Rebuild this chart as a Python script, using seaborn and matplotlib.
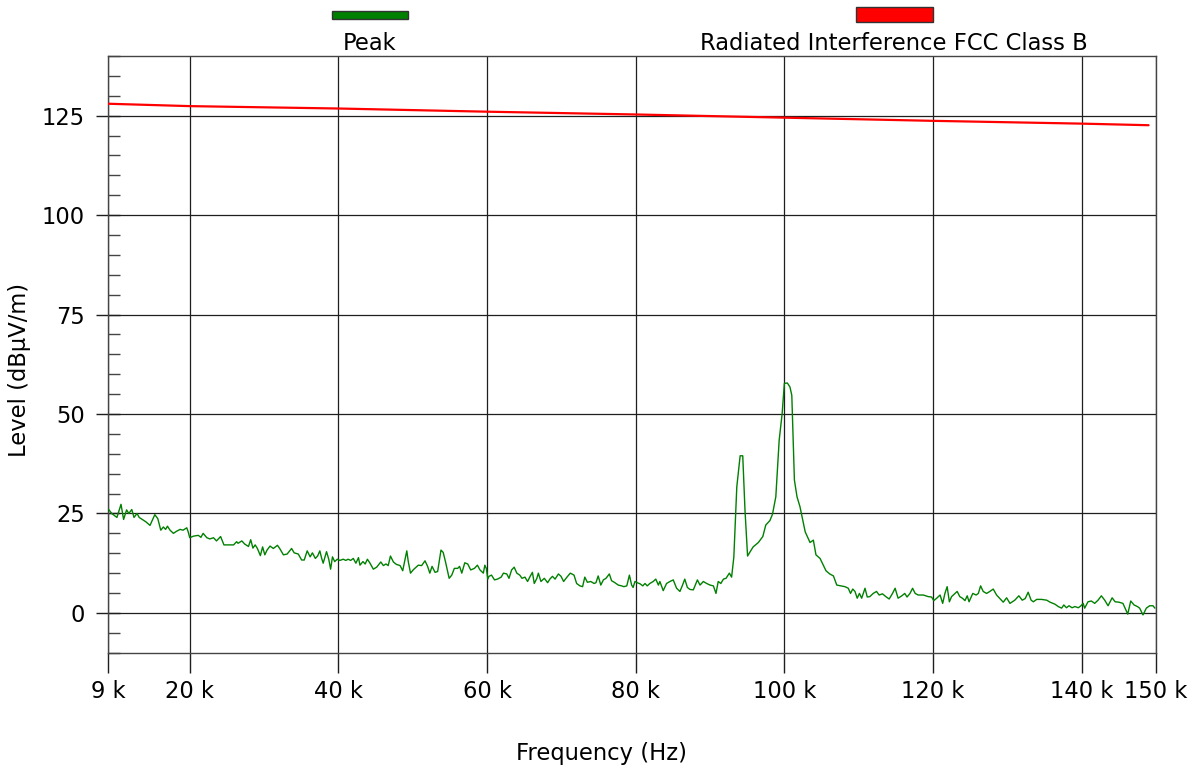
import numpy as np
import pandas as pd
import matplotlib
matplotlib.use("Agg")
import matplotlib.pyplot as plt
from matplotlib.patches import Rectangle
from matplotlib.ticker import MultipleLocator
import seaborn as sns

# ---------------- data ----------------
peak_freq_khz = [
    9.05, 9.5, 10.2, 10.75, 11.1, 11.5, 11.8, 12.2, 12.5, 12.9, 13.2, 13.6, 14.1, 14.65,
    15.3, 15.7, 16.1, 16.45, 16.75, 17.0, 17.35, 17.8, 18.2, 18.7, 19.1, 19.6, 19.8,
    20.0, 20.5, 21.15, 21.5, 21.8, 22.3, 22.7, 23.2, 23.6, 24.15, 24.6, 25.2, 25.9,
    26.3, 26.5, 27.0, 27.4, 27.9, 28.2, 28.5, 28.8, 29.1, 29.5,
    29.8, 30.1, 30.4, 30.8, 31.25, 31.8, 32.1, 32.6, 33.1, 33.7, 34.05, 34.6, 35.05,
    35.4, 35.8, 36.2, 36.5, 36.9, 37.2, 37.5, 37.75, 37.95, 38.4, 38.7, 38.95, 39.2,
    39.5, 39.85, 40.2, 40.65, 41.0, 41.3, 41.65, 42.0, 42.35, 42.7, 42.9, 43.3, 43.6,
    43.9, 44.25, 44.7, 45.15, 45.7, 46.05, 46.4, 46.7, 47.0, 47.4, 47.8, 48.3, 48.65,
    48.95, 49.2, 49.4, 49.7, 50.1,
    50.75, 51.2, 51.65, 52.0, 52.3, 52.6, 53.0, 53.35, 53.8, 54.1, 54.4, 54.9, 55.25,
    55.6, 56.05, 56.3, 56.6, 57.0, 57.4, 57.8, 58.3, 58.7, 59.05, 59.5, 59.7, 59.9,
    60.1, 60.25, 60.6, 61.0, 61.4, 61.9, 62.2, 62.65, 62.95, 63.3, 63.65, 64.0, 64.4,
    64.7, 65.1, 65.45, 65.8, 66.1, 66.35, 66.7, 66.9, 67.25, 67.7, 68.15, 68.45, 68.8,
    69.15, 69.6, 69.95, 70.3, 70.75, 71.2,
    71.7, 72.05, 72.5, 72.85, 73.15, 73.5, 73.95, 74.4, 74.65, 74.95, 75.3, 75.65, 76.0,
    76.45, 76.75, 77.2, 77.65, 78.1, 78.4, 78.8, 79.15, 79.45, 79.65, 79.9, 80.2, 80.6,
    80.95, 81.25, 81.55, 81.9, 82.35, 82.7, 83.05, 83.25, 83.7, 84.15, 84.6, 85.05,
    85.5, 85.95, 86.3, 86.6, 86.95, 87.3, 87.75, 88.3, 88.65, 89.1, 89.55, 90.0, 90.45,
    90.8, 91.1, 91.45, 91.8, 92.15, 92.6, 92.9,
    93.2, 93.6, 94.05, 94.4, 94.7, 95.05, 95.4, 95.8, 96.5, 97.1, 97.5, 98.05, 98.4,
    98.85, 99.3, 99.7, 100.0, 100.4, 100.75, 101.0, 101.35, 101.7, 102.1, 102.8, 103.45,
    103.9, 104.25, 104.8, 105.6, 106.1, 106.6, 107.05, 107.6, 108.15, 108.6, 108.9,
    109.2, 109.5, 109.8, 110.1, 110.4, 110.85, 111.15, 111.5, 111.95, 112.4, 112.75,
    113.2, 113.65, 114.1, 114.55, 114.9, 115.3, 115.8, 116.2, 116.5, 116.9, 117.25,
    117.6, 118.0, 118.7, 119.35, 119.8, 120.1, 120.5, 120.95, 121.3, 121.6, 121.9,
    122.2, 122.5, 122.95, 123.25, 123.6, 123.95, 124.3, 124.6, 124.85, 125.35, 125.8,
    126.1, 126.4, 126.75, 127.2, 127.65, 128.1, 128.55,
    129.45, 129.9, 130.35, 131.0, 131.55, 132.0, 132.4, 132.8, 133.2, 133.5, 133.95,
    134.6, 135.3, 135.75, 136.4, 136.85, 137.3, 137.6, 137.95, 138.3, 138.7, 139.1,
    139.55, 139.9, 140.2, 140.4, 140.85, 141.3, 141.75, 142.2, 142.65, 143.1, 143.55,
    144.1, 144.5, 145.0, 145.55, 146.2, 146.6, 147.05, 147.5, 147.8, 148.25, 148.7,
    149.15, 149.6, 149.85,
]
peak_level = [
    26.1, 25.0, 24.0, 27.3, 23.5, 25.9, 25.0, 26.0, 24.0, 25.0, 24.0, 23.5, 22.9, 22.0,
    24.7, 23.7, 20.8, 21.6, 21.0, 21.8, 20.8, 20.0, 20.5, 21.0, 20.8, 21.4, 20.3,
    18.9, 19.3, 19.5, 19.0, 20.0, 18.9, 18.6, 18.9, 18.1, 19.2, 17.1, 17.1, 17.1,
    17.9, 17.5, 18.1, 17.3, 16.7, 18.4, 16.3, 17.1, 16.2, 14.4,
    16.6, 14.6, 15.8, 16.8, 16.2, 17.0, 16.2, 14.6, 14.8, 16.2, 15.1, 14.8, 13.3,
    13.3, 15.6, 14.1, 15.1, 13.7, 14.3, 15.6, 13.7, 12.5, 15.4, 13.5, 11.0, 14.1,
    12.9, 13.5, 13.2, 13.5, 13.2, 13.5, 13.2, 13.7, 12.5, 13.9, 12.0, 12.9, 12.3,
    13.5, 12.5, 11.0, 11.5, 12.8, 11.9, 12.3, 11.9, 14.3, 12.8, 12.2, 11.9, 10.6,
    13.3, 15.6, 12.9, 10.0, 10.9,
    12.0, 11.9, 13.1, 11.7, 10.0, 11.7, 10.2, 10.4, 15.8, 15.2, 12.9, 8.7, 9.5,
    11.2, 11.2, 11.7, 10.0, 12.6, 12.3, 10.8, 11.2, 12.0, 10.8, 10.0, 12.0, 11.2,
    8.5, 9.2, 9.5, 8.3, 8.5, 9.0, 10.0, 9.8, 8.7, 10.8, 11.5, 10.0, 9.5,
    8.7, 9.0, 7.9, 9.2, 10.2, 7.4, 8.7, 10.0, 7.9, 8.7, 7.6, 8.5, 9.2,
    8.5, 9.8, 9.2, 7.9, 9.0, 10.0,
    9.5, 7.4, 6.8, 6.6, 9.0, 7.7, 7.9, 7.4, 7.6, 9.3, 7.0, 8.3, 8.7,
    9.8, 8.1, 7.6, 7.0, 6.8, 6.6, 6.8, 9.5, 7.0, 6.4, 7.9, 7.6, 7.3,
    6.8, 7.4, 6.8, 7.4, 7.9, 8.5, 7.0, 7.9, 5.6, 7.4, 7.9, 8.3,
    6.2, 5.4, 7.0, 8.5, 6.4, 5.9, 5.8, 8.3, 7.0, 7.9, 7.4, 7.0, 6.8,
    4.9, 7.9, 7.4, 8.5, 8.7, 10.0, 9.0,
    14.0, 31.7, 39.5, 39.5, 25.9, 14.3, 15.4, 16.6, 17.7, 19.2, 22.1, 23.2, 24.8,
    29.2, 43.4, 50.1, 57.7, 57.8, 56.8, 54.7, 33.4, 29.2, 26.7, 20.4, 17.7,
    18.3, 14.6, 13.7, 10.6, 9.8, 9.3, 7.0, 6.8, 6.6, 6.2, 4.9,
    6.0, 5.4, 3.7, 4.9, 3.7, 6.2, 4.0, 4.1, 4.9, 5.4, 4.5,
    4.8, 4.1, 3.5, 4.9, 6.2, 3.7, 4.3, 4.9, 4.0, 4.9, 6.2,
    4.9, 4.5, 4.5, 4.1, 4.0, 3.1, 3.7, 4.5, 2.4, 4.9, 6.6,
    2.8, 4.1, 4.9, 5.4, 4.1, 3.7, 3.1, 4.3, 2.8, 4.9, 4.5,
    4.9, 6.8, 5.4, 4.9, 5.4, 6.0, 4.5,
    2.7, 3.8, 2.4, 3.2, 4.3, 3.2, 3.6, 5.2, 3.2, 2.8, 3.4,
    3.4, 3.2, 2.7, 2.2, 1.6, 1.2, 2.0, 1.3, 1.8, 1.3, 1.6,
    1.3, 1.8, 2.4, 1.2, 2.8, 3.0, 2.4, 3.2, 4.3, 3.2, 1.8,
    3.8, 2.8, 2.7, 2.4, -0.3, 3.0, 2.0, 1.6, 1.2, -0.5, 1.2,
    1.8, 1.8, 1.2,
]
limit_freq_khz = [9, 20, 40, 60, 80, 100, 120, 140, 149]
limit_level = [128.0, 127.4, 126.8, 126.0, 125.3, 124.5, 123.7, 123.0, 122.6]

x_ticks_khz = [9, 20, 40, 60, 80, 100, 120, 140, 150]
x_tick_labels = ["9 k", "20 k", "40 k", "60 k", "80 k", "100 k", "120 k", "140 k", "150 k"]
y_ticks = [0, 25, 50, 75, 100, 125]

series_names = ["Peak", "Radiated Interference FCC Class B"]
series_colors = ["#008000", "#ff0000"]

# ---------------- style ----------------
sns.set_theme(style="white")
plt.rcParams['font.family'] = ['DejaVu Sans']
plt.rcParams['text.color'] = 'black'

W, H = 1196, 766
fig = plt.figure(figsize=(W / 100, H / 100), dpi=100)
ax = fig.add_axes([108 / W, 1 - 652.7 / H, (1156 - 108) / W, (652.7 - 56) / H])

peak_df = pd.DataFrame({"Frequency": peak_freq_khz, "Level": peak_level})
limit_df = pd.DataFrame({"Frequency": limit_freq_khz, "Level": limit_level})

sns.lineplot(data=peak_df, x="Frequency", y="Level", ax=ax, color=series_colors[0],
             linewidth=1.0, sort=False, estimator=None, zorder=3)
sns.lineplot(data=limit_df, x="Frequency", y="Level", ax=ax, color=series_colors[1],
             linewidth=1.6, sort=False, estimator=None, zorder=4)

ax.set_xlim(9, 150)
ax.set_ylim(-10, 140)
ax.set_xticks(x_ticks_khz)
ax.set_xticklabels(x_tick_labels)
ax.set_yticks(y_ticks)
ax.yaxis.set_minor_locator(MultipleLocator(5))

grid_color = "#1e1e1e"
ax.grid(True, which="major", color=grid_color, linewidth=0.9)
ax.set_axisbelow(True)

for s in ax.spines.values():
    s.set_visible(True)
    s.set_color("#444444")
    s.set_linewidth(1.0)

fs = 16.3
ax.tick_params(axis="x", which="major", bottom=True, direction="out", length=14.4,
               width=1.0, color=grid_color, pad=5, labelsize=fs, labelcolor="black")
ax.tick_params(axis="y", which="major", left=True, direction="inout", length=17.3,
               width=1.0, color=grid_color, pad=8, labelsize=fs, labelcolor="black")
ax.tick_params(axis="y", which="minor", left=True, direction="in", length=8.6,
               width=1.0, color="#444444")

ax.set_xlabel("Frequency (Hz)", fontsize=fs, color="black", labelpad=28)
ax.set_ylabel("Level (dBµV/m)", fontsize=fs, color="black", labelpad=8)
ax.xaxis.label.set_x(0.471)
ax.yaxis.label.set_y(0.474)

# legend across the top
fig.add_artist(Rectangle((332 / W, 1 - 18.7 / H), 76 / W, 8 / H, transform=fig.transFigure,
                         facecolor=series_colors[0], edgecolor="#333333", linewidth=1))
fig.add_artist(Rectangle((856 / W, 1 - 21.7 / H), 76.7 / W, 14.4 / H, transform=fig.transFigure,
                         facecolor=series_colors[1], edgecolor="#333333", linewidth=1))
fig.text(370 / W, 1 - 44 / H, series_names[0], ha="center", va="center", fontsize=fs,
         color="black")
fig.text(894 / W, 1 - 44 / H, series_names[1], ha="center", va="center", fontsize=fs,
         color="black")

fig.savefig("out.png", dpi=100)
